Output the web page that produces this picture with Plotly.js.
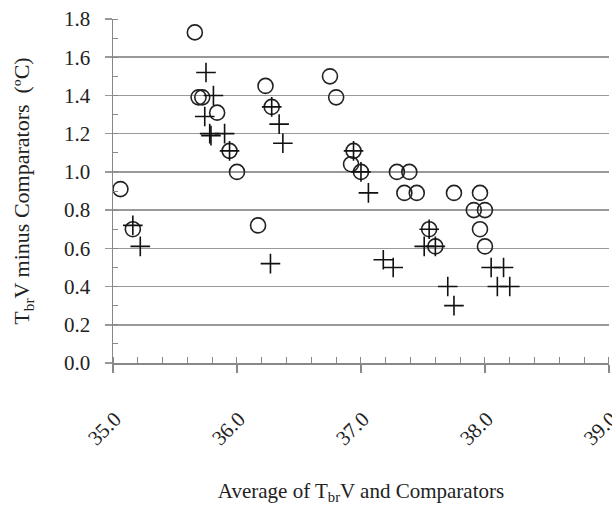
<!DOCTYPE html>
<html>
<head>
<meta charset="utf-8">
<script src="https://cdn.plot.ly/plotly-3.0.1.min.js"></script>
<style>html,body{margin:0;padding:0;background:#fff;}#chart{width:612px;height:505px;}</style>
</head>
<body>
<div id="chart"></div>
<script>
// Open circles series
const circX = [35.06, 35.16, 35.66, 35.69, 35.72, 35.84, 35.94, 36.00, 36.17, 36.23, 36.28,
               36.75, 36.80, 36.94, 36.92, 37.00, 37.29, 37.39, 37.35, 37.45, 37.75, 37.96,
               37.91, 38.00, 37.55, 37.60, 37.96, 38.00];
const circY = [0.91, 0.70, 1.73, 1.39, 1.39, 1.31, 1.11, 1.00, 0.72, 1.45, 1.34,
               1.50, 1.39, 1.11, 1.04, 1.00, 1.00, 1.00, 0.89, 0.89, 0.89, 0.89,
               0.80, 0.80, 0.70, 0.61, 0.70, 0.61];
// Plus sign series
const plusX = [35.16, 35.22, 35.75, 35.81, 35.74, 35.78, 35.79, 35.90, 35.94, 36.27, 36.28,
               36.34, 36.37, 36.94, 37.00, 37.06, 37.18, 37.26, 37.51, 37.55, 37.60, 37.70,
               37.75, 38.05, 38.15, 38.10, 38.20];
const plusY = [0.72, 0.61, 1.52, 1.40, 1.29, 1.20, 1.19, 1.20, 1.11, 0.52, 1.34,
               1.25, 1.15, 1.11, 1.00, 0.89, 0.54, 0.50, 0.61, 0.70, 0.61, 0.40,
               0.30, 0.50, 0.50, 0.40, 0.40];
const xTickVals = [35, 36, 37, 38, 39];
const xTickText = ["35.0", "36.0", "37.0", "38.0", "39.0"];
const yTickVals = [0, 0.2, 0.4, 0.6, 0.8, 1.0, 1.2, 1.4, 1.6, 1.8];
const yTickText = ["0.0", "0.2", "0.4", "0.6", "0.8", "1.0", "1.2", "1.4", "1.6", "1.8"];

const serif = "Liberation Serif";

const traces = [
  {
    x: circX, y: circY, type: "scatter", mode: "markers",
    marker: {symbol: "circle-open", size: 15, color: "#222", line: {width: 1.6, color: "#222"}},
    hoverinfo: "skip", cliponaxis: false
  },
  {
    x: plusX, y: plusY, type: "scatter", mode: "markers",
    marker: {symbol: "cross-thin-open", size: 14, color: "#111", line: {width: 1.6, color: "#111"}},
    hoverinfo: "skip", cliponaxis: false
  }
];

const layout = {
  width: 612, height: 505,
  margin: {l: 113, r: 3, t: 19, b: 142},
  paper_bgcolor: "#fff", plot_bgcolor: "#fff",
  showlegend: false,
  font: {family: serif, color: "#222"},
  xaxis: {
    range: [35, 39.0005], tickvals: xTickVals, ticktext: xTickText, tickangle: -45,
    ticklabeloverflow: "allow",
    showgrid: false, zeroline: false,
    showline: true, linecolor: "#888", linewidth: 1.5,
    ticks: "outside", ticklen: 8, tickcolor: "#888", tickwidth: 1.5,
    ticklabelstandoff: 26, ticklabelshift: 2,
    minor: {dtick: 0.2, ticks: "inside", ticklen: 6, tickcolor: "#888", tickwidth: 1, showgrid: false},
    tickfont: {family: serif, size: 21, color: "#222"},
    title: {text: "Average of T<sub>br</sub>V and Comparators", font: {family: serif, size: 21, color: "#222"}, standoff: 35}
  },
  yaxis: {
    range: [0, 1.8], tickvals: yTickVals, ticktext: yTickText,
    showgrid: true, gridcolor: "#999", gridwidth: 1.5, zeroline: false,
    showline: true, linecolor: "#888", linewidth: 1.5,
    ticks: "outside", ticklen: 7, tickcolor: "#999", tickwidth: 1.5,
    ticklabelstandoff: 10,
    minor: {dtick: 0.1, ticks: "inside", ticklen: 5, tickcolor: "#888", tickwidth: 1, showgrid: false},
    tickfont: {family: serif, size: 21, color: "#222"},
    title: {text: "T<sub>br</sub>V minus Comparators  (ºC)", font: {family: serif, size: 22, color: "#222"}, standoff: 28}
  }
};

Plotly.newPlot("chart", traces, layout, {staticPlot: true, displayModeBar: false});
</script>
</body>
</html>
